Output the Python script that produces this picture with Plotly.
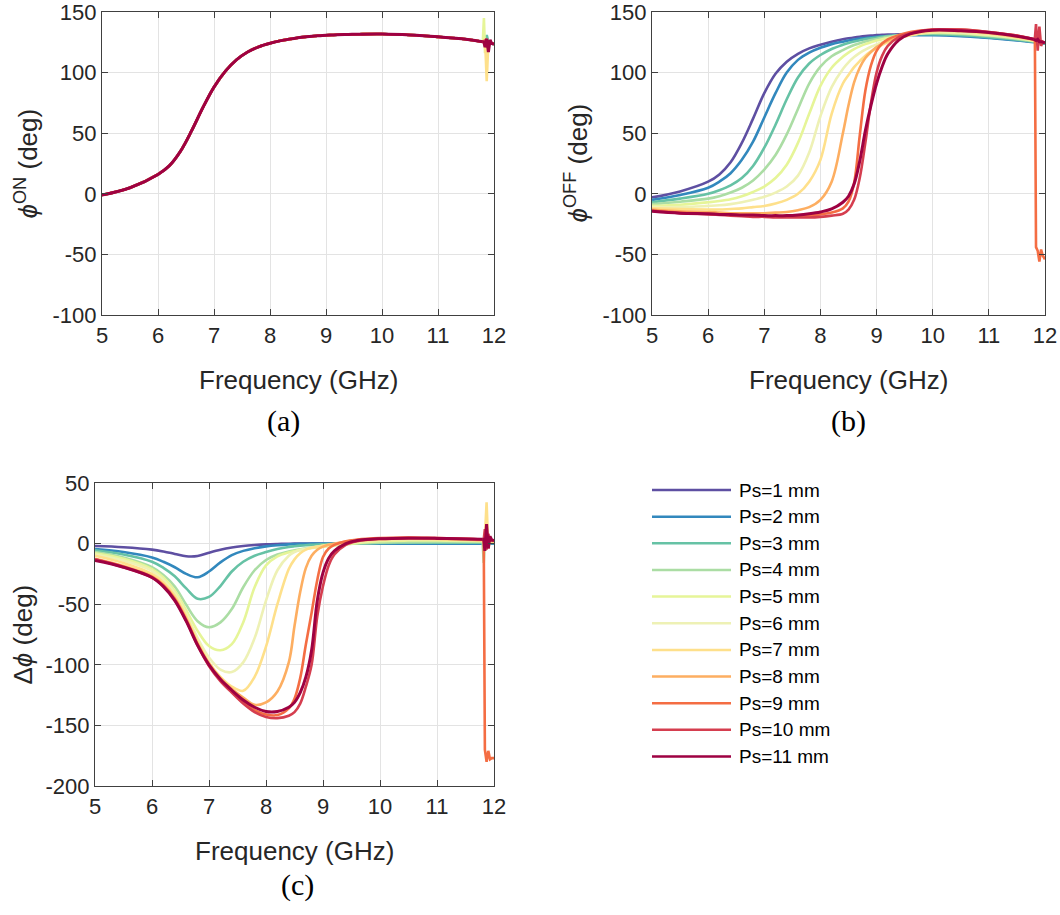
import plotly.graph_objects as go

# frequency grid (GHz) used for the smooth part of every curve
freq = [5.0, 5.5, 6.0, 6.2, 6.4, 6.6, 6.8, 7.0, 7.2, 7.4, 7.6, 7.8, 8.0, 8.2, 8.4,
        8.5, 8.6, 8.7, 8.8, 8.9, 9.0, 9.1, 9.2, 9.4, 9.6, 10.0, 10.5, 11.0, 11.5, 11.8]
# the noisy part near 12 GHz
freq_tail = [11.8, 11.82, 11.84, 11.87, 11.9, 11.93, 11.96, 12.0]

ps_mm = [1, 2, 3, 4, 5, 6, 7, 8, 9, 10, 11]
colors = ["#5e4fa2", "#3288bd", "#66c2a5", "#abdda4", "#e6f598", "#eef1b5",
          "#fee08b", "#fdae61", "#f46d43", "#d53e4f", "#9e0142"]

x_ticks = [5, 6, 7, 8, 9, 10, 11, 12]
y_ticks_top = [-100, -50, 0, 50, 100, 150]
y_ticks_bot = [-200, -150, -100, -50, 0, 50]

# (a) phi ON - all Ps overlap on the smooth part
phi_on = [-1, 5, 16, 23, 35, 52, 71, 88, 101, 110.5, 117, 121.3, 124.2, 126.4, 128,
          128.7, 129.3, 129.8, 130.2, 130.5, 130.8, 131, 131.2, 131.5, 131.7, 131.8, 131, 129.5, 127.5, 125.5]

on_tail_1 = [125.5, 125.2, 125, 124.8, 124.6, 124.3, 124, 123.5]
on_tail_2 = [125.5, 125.2, 125, 124.8, 124.6, 124.3, 124, 123.5]
on_tail_3 = [125.5, 125.2, 126, 131, 125, 124.3, 124, 123.5]
on_tail_4 = [125.5, 125.2, 127, 122, 125.5, 124.3, 124, 123.5]
on_tail_5 = [125.5, 145, 116, 128, 121, 124.5, 124, 123.5]
on_tail_6 = [125.5, 126, 122, 127, 124, 124.3, 124, 123.5]
on_tail_7 = [125.5, 125.2, 128, 93, 126, 124.3, 124, 123.5]
on_tail_8 = [125.5, 125.2, 126, 123, 125, 124.3, 124, 123.5]
on_tail_9 = [125.5, 125.2, 124, 126, 124, 124.3, 124, 123.5]
on_tail_10 = [125.5, 125.2, 127, 121, 126, 124.3, 124, 123.5]
on_tail_11 = [125.5, 125.2, 121, 128, 117, 127, 124, 123.5]

# (b) phi OFF
off_1 = [-3, 2, 10, 16, 26, 42, 62, 83, 99, 109, 115.5, 120, 123, 125.5, 127.5,
         128.3, 129, 129.6, 130.1, 130.5, 130.9, 131.2, 131.4, 131.7, 131.8, 131.5, 130.5, 129, 127, 125.5]
off_2 = [-5, -1, 5, 10, 17, 28, 43, 63, 83, 100, 110.5, 116.5, 120.5, 123.5, 125.5,
         126.5, 127.3, 128, 128.6, 129.1, 129.5, 129.9, 130.2, 130.6, 130.8, 130.8, 130, 128.5, 126.5, 125]
off_3 = [-7, -4, 0, 3, 7, 13, 23, 38, 57, 78, 96, 107.5, 114.5, 119.5, 123,
         124.5, 125.7, 126.7, 127.6, 128.3, 129, 129.6, 130.1, 130.9, 131.4, 131.6, 130.8, 129.3, 127.2, 125.5]
off_4 = [-8.5, -6.5, -4, -2, 1, 5, 11, 20, 32, 49, 70, 91, 105, 113.5, 118.5,
         120.8, 122.7, 124.3, 125.7, 126.8, 127.8, 128.7, 129.5, 130.8, 131.7, 132.5, 131.8, 130.2, 127.8, 126]
off_5 = [-10, -9, -7, -6, -4.5, -2, 1.5, 6, 13, 24, 42, 66, 89, 104, 113,
         116.5, 119.3, 121.6, 123.5, 125, 126.4, 127.6, 128.6, 130.3, 131.6, 133, 132.6, 130.8, 128.3, 126.2]
off_6 = [-11, -11, -10, -9.5, -8.5, -7, -5, -2.5, 1, 6, 15, 34, 64, 88, 103,
         108.5, 112.8, 116.3, 119, 121.3, 123.3, 125, 126.4, 128.8, 130.8, 133.5, 133.2, 131.3, 128.7, 126.5]
off_7 = [-12, -12.5, -13, -13, -12.5, -12, -11, -10, -8, -5, 0, 10, 28, 66, 91,
         98, 104.5, 109.5, 114, 117.5, 120.5, 123, 125, 128.3, 130.8, 134, 134, 132, 129, 126.8]
off_8 = [-13, -14.5, -15, -15.5, -16, -16, -16, -16, -15.5, -15, -13.5, -11, -5, 10, 50,
         73, 92, 104, 112, 117, 121, 124, 126.5, 130, 132.5, 135, 134.7, 132.7, 129.7, 127.2]
off_9 = [-14, -15.5, -16.5, -17, -17.5, -18, -18, -18.5, -18.5, -18.5, -18.5, -18, -17, -15.5, -12,
         -6.5, 9, 48, 85, 106, 118, 124, 127.5, 131, 133.5, 135.5, 135.5, 133.5, 130.5, 127.5]
off_10 = [-14, -16, -17, -17.5, -18, -18.5, -19, -19, -19.5, -19.5, -19.5, -19.5, -19, -18, -16.5,
          -13, -5, 13, 42, 75, 100, 114, 122, 129.5, 132.5, 135.5, 135.5, 133.5, 130.5, 127.5]
off_11 = [-14.5, -16, -16.5, -17, -17, -17.5, -17.5, -18, -18, -18, -17.5, -16.5, -15, -12.5, -7,
          -2, 8, 27, 52, 73, 91, 105, 115.5, 127, 132, 135, 134.5, 133, 130, 127.5]

off_tail_1 = [125.5, 125.3, 125.1, 125, 124.9, 124.7, 124.5, 124.3]
off_tail_2 = [125, 124.8, 124.6, 124.5, 124.4, 124.2, 124, 123.8]
off_tail_3 = [125.5, 125.3, 125.1, 125, 124.9, 124.7, 124.5, 124.3]
off_tail_4 = [126, 125.8, 125.6, 125.5, 125.3, 125, 124.8, 124.5]
off_tail_5 = [126.2, 126, 125.7, 125.5, 125.3, 125, 124.8, 124.5]
off_tail_6 = [126.5, 126.2, 125.9, 125.7, 125.5, 125.2, 124.9, 124.6]
off_tail_7 = [126.8, 126.5, 126.1, 125.9, 125.6, 125.3, 125, 124.6]
off_tail_8 = [127.2, 126.8, 126.4, 126.1, 125.8, 125.4, 125, 124.6]
off_tail_9 = [127.5, 126.5, -44, -47, -56, -46, -51, -54]
off_tail_10 = [127.5, 128.5, 140, 118, 138, 122, 125.5, 124.5]
off_tail_11 = [127.5, 127.2, 126.5, 127.5, 125.5, 125.5, 125, 124.5]

# (c) delta phi
dphi_1 = [-2, -3, -5, -6.5, -8.5, -10.5, -10.3, -7.5, -5, -3.2, -2, -1.2, -0.6, -0.3, -0.1,
          0, 0, 0, 0, 0, 0, 0, 0, 0, 0, 0, 0, 0, 0, 0]
dphi_2 = [-4.5, -7, -11.5, -15, -19.5, -25, -27.8, -23, -15.5, -9.5, -6, -3.8, -2.3, -1.3, -0.6,
          -0.4, -0.2, -0.1, 0, 0, 0, 0, 0, 0, 0, 0, 0, 0, 0, 0]
dphi_3 = [-5.5, -9, -15, -20, -27, -37, -45.5, -44, -35, -23, -15, -10, -7, -4.5, -2.8,
          -2.2, -1.7, -1.3, -1, -0.7, -0.5, -0.3, -0.2, 0, 0.3, 0.5, 0.7, 0.8, 0.8, 0.8]
dphi_4 = [-7, -11.5, -19.5, -26, -35.5, -50.5, -64, -69, -65, -54, -36, -22, -13.5, -9, -6.5,
          -5.5, -4.6, -3.8, -3.1, -2.5, -2, -1.6, -1.2, -0.5, 0.1, 0.8, 1.2, 1.3, 1.3, 1.3]
dphi_5 = [-8, -12.5, -21, -28, -39, -55, -72, -84.5, -88, -83, -65, -36, -18, -10.5, -7.2,
          -6.2, -5.2, -4.4, -3.7, -3.1, -2.6, -2.1, -1.6, -0.6, 0.4, 2, 2.5, 2.5, 2.2, 2]
dphi_6 = [-9, -14, -22.5, -30, -41, -58, -78, -94, -104, -106, -98, -78, -47, -22, -10,
          -7, -5.3, -4.2, -3.3, -2.6, -2, -1.5, -1, 0.2, 1.3, 3, 3.5, 3.3, 3, 2.5]
dphi_7 = [-10, -16, -25, -32, -43, -60, -81, -98, -110, -118, -121.5, -110, -85, -50, -21,
          -13, -8, -5, -3.5, -2.5, -1.5, -1, -0.5, 0.8, 2, 3.3, 3.8, 3.5, 3, 2.5]
dphi_8 = [-12.5, -18.5, -27, -34, -45, -62, -83, -99, -111, -120, -127, -133, -131, -122, -98,
          -68, -40, -20, -10, -5, -2.5, -1, 0, 1.8, 3, 4, 4.5, 4, 3.5, 3]
dphi_9 = [-13, -19, -27.5, -34.5, -46, -63, -83, -100, -112.5, -122, -131, -137.5, -141, -141.5, -136,
          -128, -111, -83, -57, -30, -11, -4, -1, 2, 3.3, 4.5, 5, 4.5, 4, 3.5]
dphi_10 = [-13, -19.5, -28, -35, -46.5, -63.5, -84, -101, -113.5, -123, -132, -139, -143, -144, -142,
           -139, -132, -118, -100, -60, -35, -18, -9, -1, 2, 4, 4.8, 4.5, 4, 3.5]
dphi_11 = [-14, -19.5, -28, -35.5, -47, -64, -84, -100, -112, -121, -129, -135, -138.5, -138.5, -135,
           -131, -123, -110, -88, -47, -24, -12, -6, 0, 2.5, 4, 4.5, 4.3, 3.8, 3.5]

dphi_tail_1 = [0, 0, 0, 0, 0, 0, 0, 0]
dphi_tail_2 = [0, 0, 0, 0, 0, 0, 0, 0]
dphi_tail_3 = [0.8, 0.8, 0, -4, 1, 0.5, 0.5, 0.5]
dphi_tail_4 = [1.3, -16, 4, 0, 2, 1, 1, 1]
dphi_tail_5 = [2, 2, -6, 5, 0, 1.5, 1.5, 1.5]
dphi_tail_6 = [2.5, 2.5, 3, -2, 2, 2, 2, 2]
dphi_tail_7 = [2.5, 2.5, 5, 34, -4, 3, 2, 2]
dphi_tail_8 = [3, 3, 4, -1, 3, 2.5, 2, 2]
dphi_tail_9 = [3.5, 3, -170, -180, -171, -178, -177, -177]
dphi_tail_10 = [3.5, 3.5, 12, -5, 8, 3, 2.5, 2.5]
dphi_tail_11 = [3.5, 3.5, -6, 16, -4, 6, 3, 2.5]

on_tails = [on_tail_1, on_tail_2, on_tail_3, on_tail_4, on_tail_5, on_tail_6,
            on_tail_7, on_tail_8, on_tail_9, on_tail_10, on_tail_11]
off_series = [off_1, off_2, off_3, off_4, off_5, off_6, off_7, off_8, off_9, off_10, off_11]
off_tails = [off_tail_1, off_tail_2, off_tail_3, off_tail_4, off_tail_5, off_tail_6,
             off_tail_7, off_tail_8, off_tail_9, off_tail_10, off_tail_11]
dphi_series = [dphi_1, dphi_2, dphi_3, dphi_4, dphi_5, dphi_6, dphi_7, dphi_8, dphi_9, dphi_10, dphi_11]
dphi_tails = [dphi_tail_1, dphi_tail_2, dphi_tail_3, dphi_tail_4, dphi_tail_5, dphi_tail_6,
              dphi_tail_7, dphi_tail_8, dphi_tail_9, dphi_tail_10, dphi_tail_11]

W, H = 1060, 915
SANS = "Liberation Sans, Arial, sans-serif"
SERIF = "Liberation Serif, Times New Roman, serif"


def px(x):
    return x / W


def py(y):
    return 1 - y / H


fig = go.Figure()

panels = [("x", "y", [phi_on] * 11, on_tails),
          ("x2", "y2", off_series, off_tails),
          ("x3", "y3", dphi_series, dphi_tails)]

for xa, ya, series, tails in panels:
    for k in range(11):
        lw = 3 if k == 10 else 2.6
        name = f"Ps={ps_mm[k]} mm"
        fig.add_trace(go.Scatter(x=freq, y=series[k], mode="lines", name=name,
                                 line=dict(color=colors[k], width=lw, shape="spline"),
                                 xaxis=xa, yaxis=ya, showlegend=False, hoverinfo="skip"))
        fig.add_trace(go.Scatter(x=freq_tail, y=tails[k], mode="lines", name=name,
                                 line=dict(color=colors[k], width=lw),
                                 xaxis=xa, yaxis=ya, showlegend=False, hoverinfo="skip"))

axis_style = dict(showline=True, linecolor="#404040", linewidth=1.3, mirror="ticks",
                  ticks="inside", ticklen=6, tickcolor="#404040", tickwidth=1,
                  showgrid=True, gridcolor="#e3e3e3", gridwidth=1, zeroline=False,
                  automargin=False, ticklabeloverflow="allow",
                  tickfont=dict(family=SANS, size=22, color="#262626"))
x_style = dict(range=[5, 12], tickmode="array", tickvals=x_ticks,
               ticktext=[str(v) for v in x_ticks], **axis_style)
yt_style = dict(range=[-100, 150], tickmode="array", tickvals=y_ticks_top,
                ticktext=[str(v) for v in y_ticks_top], **axis_style)
yb_style = dict(range=[-200, 50], tickmode="array", tickvals=y_ticks_bot,
                ticktext=[str(v) for v in y_ticks_bot], **axis_style)

xdom_a = [px(102), px(494)]
xdom_b = [px(652), px(1045)]
xdom_c = [px(95), px(494)]
ydom_top = [py(315), py(12)]
ydom_bot = [py(786), py(483)]

fig.update_layout(
    width=W, height=H,
    margin=dict(l=0, r=0, t=0, b=0),
    paper_bgcolor="white", plot_bgcolor="white",
    showlegend=False,
    xaxis=dict(domain=xdom_a, anchor="y", **x_style),
    yaxis=dict(domain=ydom_top, anchor="x", **yt_style),
    xaxis2=dict(domain=xdom_b, anchor="y2", **x_style),
    yaxis2=dict(domain=ydom_top, anchor="x2", **yt_style),
    xaxis3=dict(domain=xdom_c, anchor="y3", **x_style),
    yaxis3=dict(domain=ydom_bot, anchor="x3", **yb_style),
)

label_font = dict(family=SANS, size=26, color="#262626")
notes = [
    ("Frequency (GHz)", 298, 380, 0),
    ("Frequency (GHz)", 848.5, 380, 0),
    ("Frequency (GHz)", 294.5, 851, 0),
    ("<i>ϕ</i><sup>ON</sup> (deg)", 27, 163.5, -90),
    ("<i>ϕ</i><sup>OFF</sup> (deg)", 577, 163.5, -90),
    ("Δ<i>ϕ</i> (deg)", 22, 634.5, -90),
]
for text, x, y, ang in notes:
    fig.add_annotation(text=text, x=px(x), y=py(y), xref="paper", yref="paper",
                       showarrow=False, textangle=ang, font=label_font,
                       xanchor="center", yanchor="middle")

for text, x, y in [("(a)", 283.5, 421), ("(b)", 848, 421), ("(c)", 297, 885)]:
    fig.add_annotation(text=text, x=px(x), y=py(y), xref="paper", yref="paper",
                       showarrow=False, font=dict(family=SERIF, size=30, color="black"),
                       xanchor="center", yanchor="middle")

# legend drawn by hand so the line samples are as long as in the original
for k in range(11):
    yy = 490 + k * 26.65
    fig.add_shape(type="line", xref="paper", yref="paper",
                  x0=px(652), x1=px(731), y0=py(yy), y1=py(yy),
                  line=dict(color=colors[k], width=2.5))
    fig.add_annotation(text=f"Ps={ps_mm[k]} mm", x=px(737), y=py(yy),
                       xref="paper", yref="paper", showarrow=False,
                       xanchor="left", yanchor="middle",
                       font=dict(family=SANS, size=19, color="black"))

# drop the default page margin so the figure sits in the window corner
fig.write_html("out.html", config={"displayModeBar": False},
               post_script="document.body.style.margin='0';document.body.style.padding='0';")
